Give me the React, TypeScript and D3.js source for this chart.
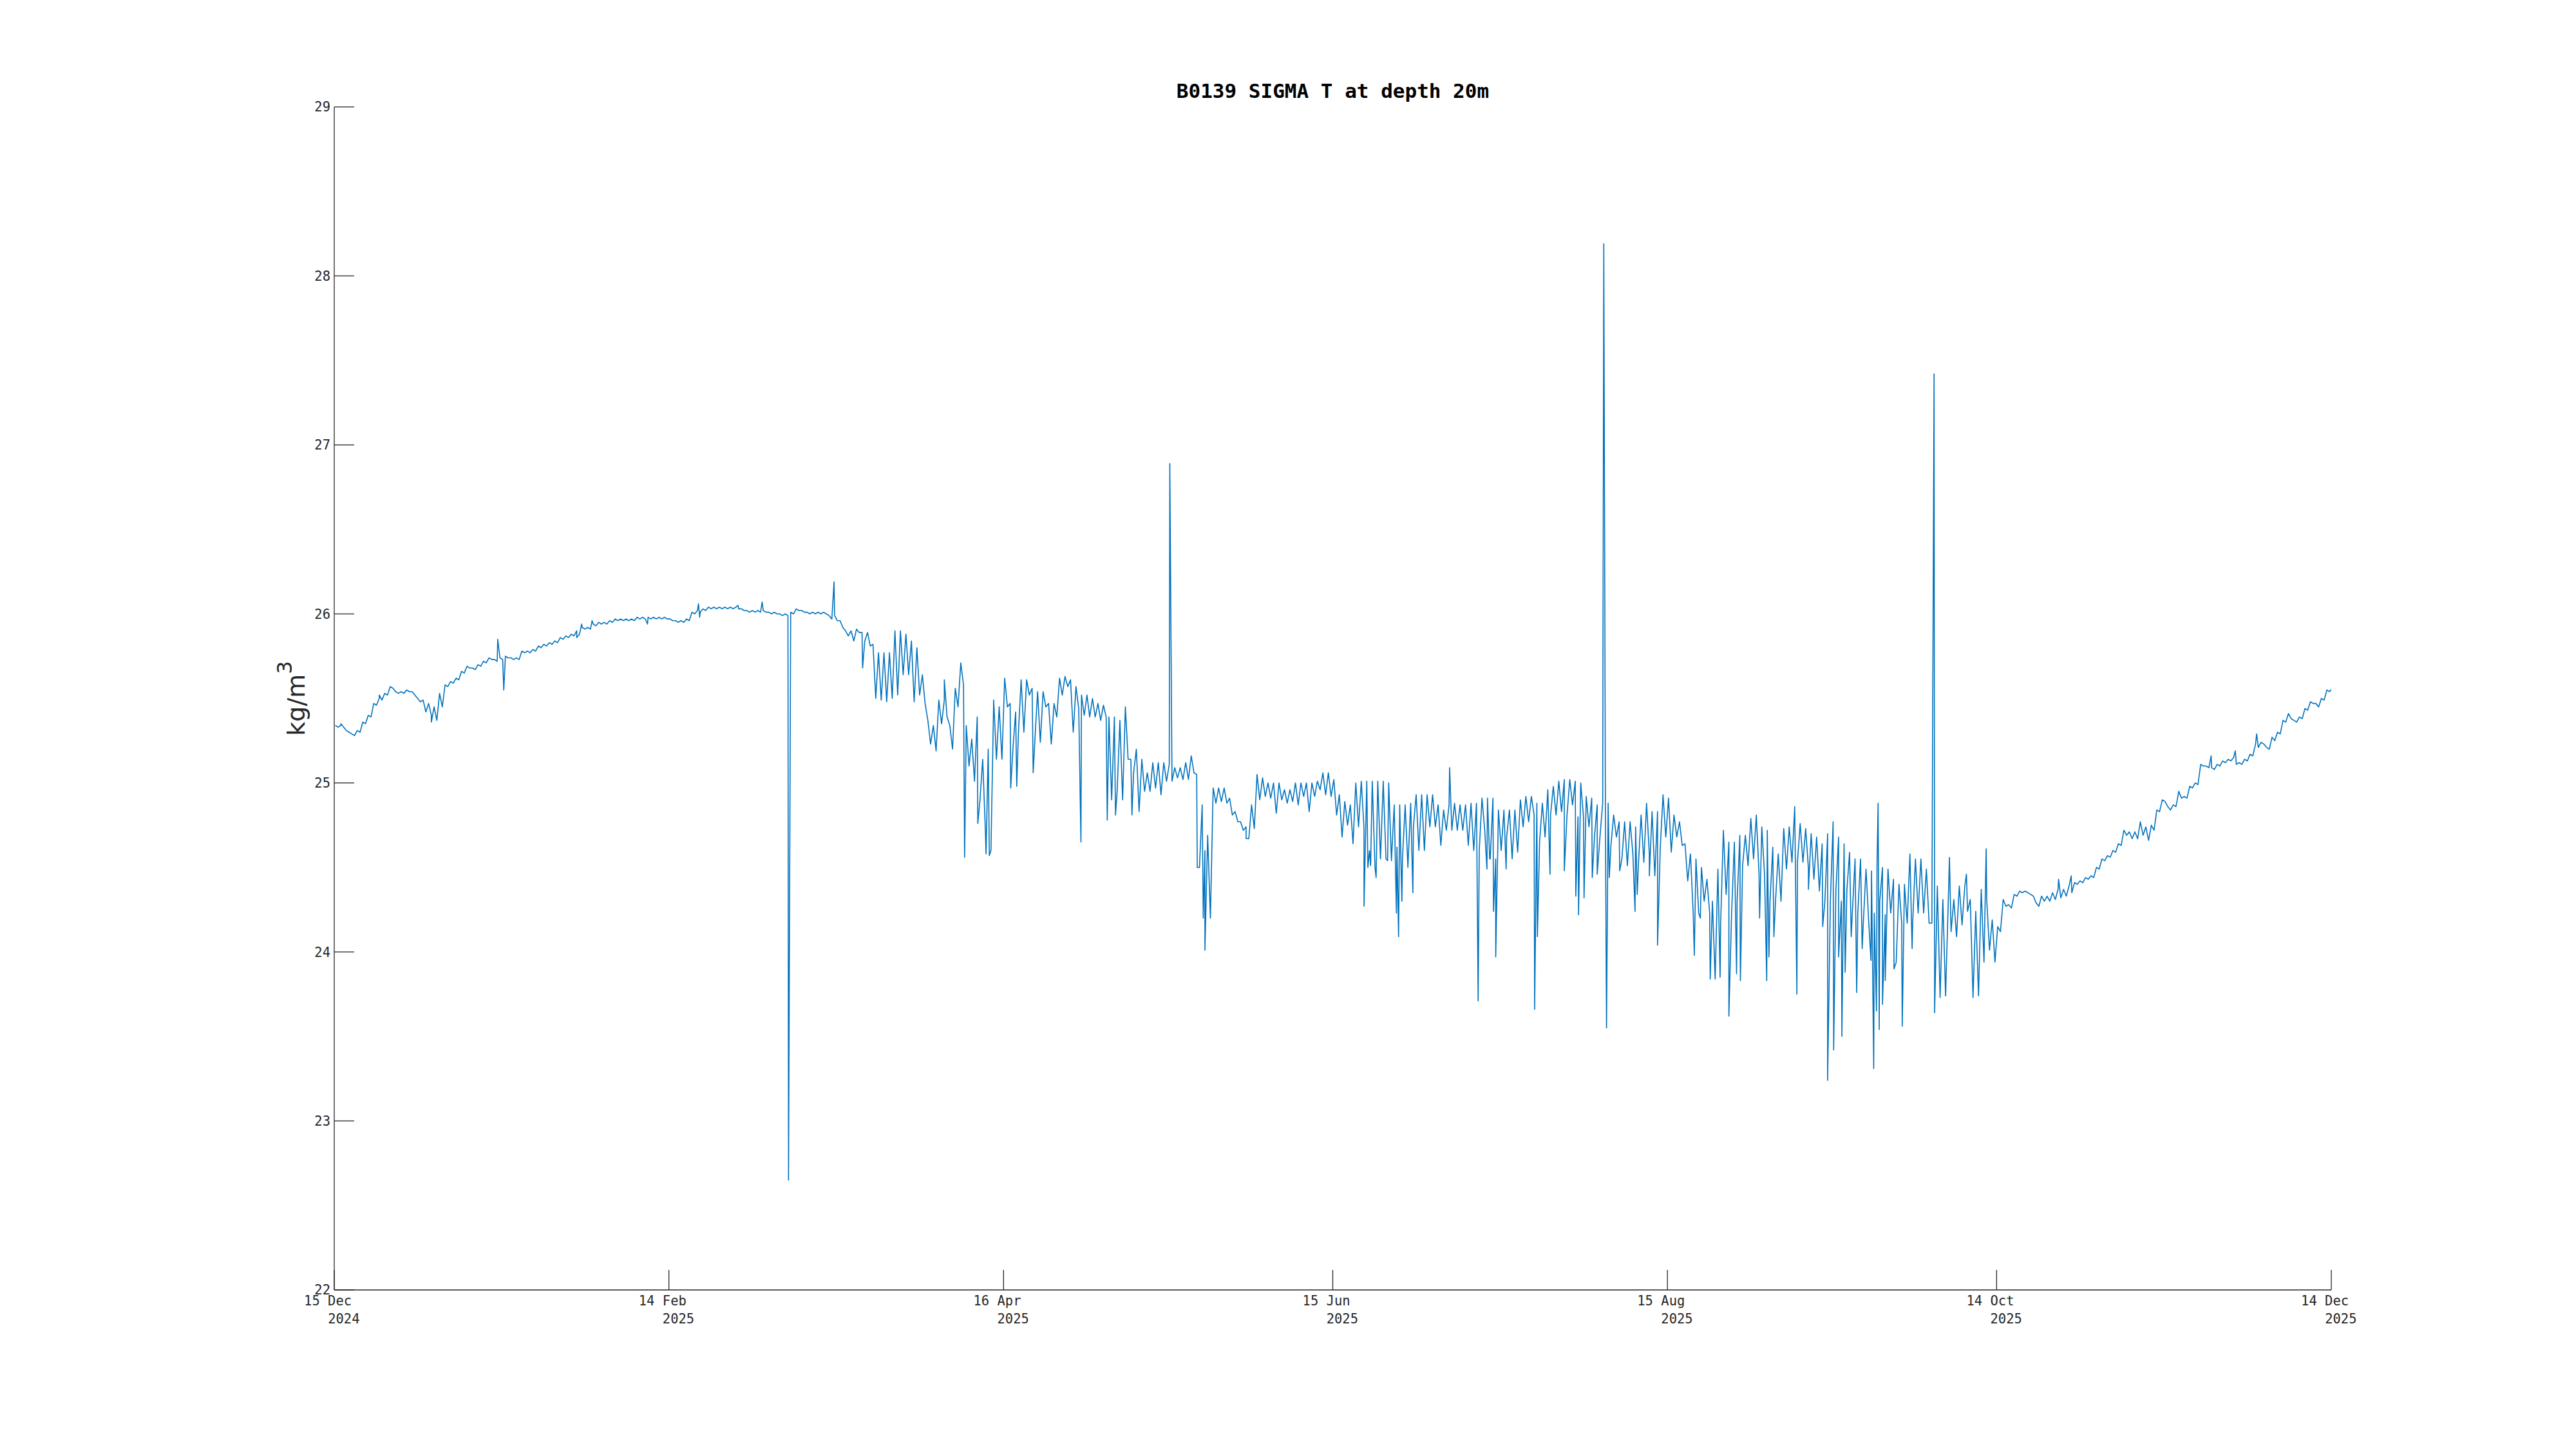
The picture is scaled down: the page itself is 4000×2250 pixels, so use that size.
import React from "react";
import * as d3 from "d3";

// ---------- data ----------
const startDay = "2024-12-15";
const endDay = "2025-12-14";
const tickDays = ["2024-12-15", "2025-02-14", "2025-04-16", "2025-06-15", "2025-08-15", "2025-10-14", "2025-12-14"];
const yTicks = [22, 23, 24, 25, 26, 27, 28, 29];
const titleText = "B0139 SIGMA T at depth 20m";

// daily upper / lower envelope of sigma-t (kg/m3), day 0 = 15 Dec 2024
const dailyHigh = [
  25.34,25.34,25.31,25.29,25.31,25.36,25.40,25.47,25.50,25.53,
  25.57,25.54,25.54,25.55,25.54,25.50,25.49,25.47,25.45,25.53,
  25.58,25.60,25.62,25.66,25.69,25.68,25.70,25.72,25.74,25.73,
  25.74,25.75,25.74,25.74,25.78,25.78,25.79,25.81,25.82,25.83,
  25.84,25.86,25.87,25.88,25.90,25.92,25.92,25.94,25.95,25.95,
  25.96,25.97,25.97,25.97,25.97,25.98,25.98,25.98,25.98,25.98,
  25.98,25.97,25.96,25.96,25.97,26.01,26.02,26.03,26.04,26.04,
  26.04,26.04,26.04,26.04,26.03,26.02,26.02,26.02,26.02,26.01,
  26.01,26.00,26.00,26.01,26.03,26.02,26.01,26.01,26.01,26.01,
  25.99,25.99,25.96,25.90,25.90,25.91,25.89,25.89,25.82,25.77,
  25.77,25.77,25.90,25.90,25.88,25.84,25.80,25.64,25.37,25.34,
  25.49,25.49,25.34,25.56,25.71,25.34,25.26,25.39,25.14,25.20,
  25.49,25.45,25.62,25.47,25.42,25.61,25.61,25.56,25.54,25.54,
  25.47,25.47,25.62,25.63,25.61,25.57,25.52,25.52,25.50,25.47,
  25.46,25.39,25.39,25.37,25.45,25.14,25.20,25.14,25.06,25.12,
  25.12,25.12,25.11,25.09,25.09,25.12,25.16,25.05,24.87,24.69,
  24.97,24.97,24.97,24.91,24.83,24.77,24.74,24.87,25.05,25.03,
  25.00,25.00,25.00,24.96,24.96,25.00,25.00,25.00,25.00,25.01,
  25.06,25.06,25.02,24.93,24.89,24.87,25.00,25.01,25.01,25.01,
  25.01,25.01,25.00,24.87,24.87,24.87,24.88,24.93,24.93,24.93,
  24.93,24.87,24.84,24.87,24.88,24.87,24.87,24.88,24.88,24.91,
  24.91,24.91,24.84,24.84,24.84,24.84,24.90,24.92,24.92,24.88,
  24.88,24.96,24.98,25.01,25.02,25.02,25.01,25.00,24.92,24.91,
  24.87,24.88,24.88,24.81,24.77,24.77,24.77,24.74,24.81,24.88,
  24.83,24.83,24.93,24.91,24.81,24.77,24.64,24.58,24.55,24.50,
  24.43,24.30,24.49,24.72,24.65,24.65,24.69,24.69,24.79,24.81,
  24.74,24.72,24.62,24.58,24.73,24.74,24.86,24.76,24.73,24.70,
  24.68,24.64,24.70,24.77,24.68,24.64,24.59,24.55,24.55,24.49,
  24.48,24.51,24.50,24.49,24.43,24.40,24.40,24.58,24.55,24.55,
  24.49,24.17,24.39,24.31,24.31,24.31,24.39,24.39,24.31,24.24,
  24.37,24.31,24.19,24.15,24.31,24.28,24.34,24.36,24.36,24.34,
  24.29,24.33,24.33,24.35,24.37,24.37,24.39,24.41,24.42,24.44,
  24.45,24.50,24.55,24.57,24.60,24.64,24.72,24.71,24.71,24.77,
  24.74,24.75,24.84,24.90,24.86,24.87,24.95,24.92,24.98,25.00,
  25.11,25.10,25.09,25.11,25.13,25.14,25.15,25.12,25.14,25.17,
  25.23,25.24,25.21,25.27,25.30,25.37,25.41,25.37,25.39,25.44,
  25.48,25.47,25.50,25.55,25.56,
];

const dailyLow = [
  25.33,25.33,25.30,25.28,25.30,25.35,25.39,25.46,25.49,25.52,
  25.56,25.53,25.53,25.54,25.52,25.48,25.42,25.40,25.37,25.45,
  25.57,25.59,25.61,25.65,25.68,25.67,25.69,25.71,25.73,25.72,
  25.73,25.74,25.73,25.73,25.77,25.77,25.78,25.80,25.81,25.82,
  25.83,25.85,25.86,25.87,25.88,25.91,25.91,25.93,25.94,25.94,
  25.95,25.96,25.96,25.96,25.96,25.97,25.97,25.97,25.97,25.97,
  25.97,25.96,25.95,25.95,25.96,26.00,26.01,26.02,26.03,26.03,
  26.03,26.03,26.03,26.03,26.02,26.01,26.01,26.01,26.01,26.00,
  26.00,25.99,25.99,26.00,26.02,26.01,26.00,26.00,26.00,26.00,
  25.97,25.96,25.92,25.87,25.84,25.89,25.84,25.81,25.50,25.49,
  25.48,25.50,25.52,25.64,25.64,25.48,25.52,25.47,25.23,25.19,
  25.35,25.39,25.20,25.45,25.58,25.10,25.01,24.90,24.70,24.60,
  25.14,25.14,25.45,25.20,25.29,25.30,25.52,25.25,25.24,25.45,
  25.23,25.39,25.52,25.57,25.30,25.44,25.40,25.39,25.39,25.37,
  25.39,24.90,24.95,24.90,25.14,25.06,24.83,24.95,24.95,24.97,
  24.93,25.01,25.01,25.03,25.02,25.02,25.06,24.50,24.60,24.20,
  24.88,24.89,24.88,24.81,24.77,24.72,24.67,24.73,24.90,24.92,
  24.91,24.82,24.90,24.88,24.89,24.87,24.92,24.83,24.92,24.96,
  24.93,24.92,24.81,24.68,24.75,24.64,24.74,24.73,24.60,24.50,
  24.55,24.55,24.54,24.62,24.55,24.50,24.74,24.60,24.60,24.74,
  24.74,24.63,24.72,24.72,24.72,24.72,24.63,24.60,24.60,24.72,
  24.55,24.55,24.60,24.68,24.55,24.59,24.74,24.77,24.81,24.65,
  24.68,24.81,24.81,24.83,24.81,24.87,24.80,24.80,24.74,24.68,
  24.68,24.78,24.63,24.68,24.55,24.51,24.58,24.51,24.53,24.58,
  24.45,24.62,24.68,24.59,24.68,24.63,24.42,24.23,24.23,24.30,
  24.23,23.84,24.17,24.34,24.23,24.30,24.51,24.51,24.55,24.46,
  24.46,24.30,24.30,24.30,24.49,24.53,24.53,24.53,24.49,24.43,
  24.36,24.30,24.30,24.36,24.30,24.36,24.23,24.23,24.17,24.17,
  24.23,24.30,24.22,24.23,23.94,24.17,24.17,24.17,24.23,24.23,
  24.17,23.64,23.73,23.74,24.12,24.09,24.16,24.24,23.73,23.74,
  23.94,24.01,23.94,24.12,24.27,24.26,24.33,24.35,24.35,24.33,
  24.27,24.30,24.30,24.31,24.32,24.33,24.35,24.40,24.41,24.43,
  24.44,24.49,24.54,24.56,24.59,24.63,24.69,24.67,24.67,24.69,
  24.66,24.72,24.83,24.89,24.84,24.86,24.91,24.91,24.97,24.99,
  25.10,25.09,25.08,25.10,25.12,25.13,25.11,25.11,25.13,25.16,
  25.21,25.23,25.20,25.25,25.29,25.36,25.38,25.36,25.38,25.43,
  25.47,25.45,25.49,25.54,25.55,
];

// isolated single-sample excursions (day offset from 15 Dec 2024, value)
const spikeDays = [
  1.2, 8.2, 17.7, 29.8, 30.9, 44.2, 45.1, 47.0, 57.1, 66.4, 66.6,
  73.6, 78.0, 82.8, 91.1, 96.3, 111.2, 114.9, 117.3, 118.8, 119.4, 123.3, 124.4, 127.4, 136.1, 140.9, 142.4, 145.4,
  152.3, 157.3, 158.4, 158.7, 166.2, 187.7, 188.4, 188.9, 189.9, 192.0, 193.6, 194.0, 194.6, 196.6, 203.3, 208.5, 210.1, 210.6, 211.3, 211.7, 213.6, 218.8,
  219.3, 221.6, 224.2, 226.3, 226.8, 227.8, 229.3, 230.2, 231.4, 231.9, 232.4, 234.3, 237.1, 237.5, 239.7, 241.2, 247.9, 249.0, 250.8, 252.6, 254.2, 255.6, 256.3, 259.8, 261.1, 261.5, 262.4, 266.6, 268.7, 271.3, 272.2, 273.3, 274.2, 274.8, 275.4, 276.5, 277.5, 278.5, 280.1, 280.6, 281.1, 281.4, 281.6, 282.2, 282.7, 284.3, 285.8, 287.6,
  291.6, 294.4, 297.5, 301.1, 314.3, 316.6, 342.1, 346.5, 350.4,
];
const spikeValues = [
  25.35, 25.52, 25.36, 25.85, 25.55, 25.86, 25.94, 25.96, 25.94, 26.06, 25.98,
  26.05, 26.07, 22.65, 26.19, 25.68, 25.61, 24.56, 24.76, 24.58, 24.57, 24.97, 24.98, 25.06, 24.65, 24.78, 24.81, 24.81,
  26.89, 24.50, 24.20, 24.01, 24.67, 24.27, 24.50, 24.51, 24.44, 24.54, 24.23, 24.09, 24.30, 24.35, 25.09, 23.71, 24.49, 24.55, 24.24, 23.97, 24.49, 23.66,
  24.09, 24.46, 24.48, 24.33, 24.22, 24.32, 24.44, 24.46, 28.19, 23.55, 24.44, 24.48, 24.24, 24.34, 24.45, 24.04, 23.98, 24.20, 23.84, 23.85, 23.62, 23.87, 23.83, 24.20, 23.83, 23.97, 24.09, 23.75, 24.37, 24.15, 23.24, 23.42, 23.97, 23.50, 23.88, 24.09, 23.76, 24.02, 23.95, 23.31, 23.65, 24.88, 23.54, 23.69, 23.83, 23.90, 23.56, 24.02,
  27.42, 24.56, 24.46, 24.61, 24.43, 24.45, 25.16, 25.19, 25.29,
];

// ---------- layout ----------
const W = 4000;
const H = 2250;
const PL = 519, PR = 3620, PT = 166, PB = 2003;
const AX = "#262626";
const LINE = "#0072BD";
const MONO = "'DejaVu Sans Mono', monospace";
const SANS = "'DejaVu Sans', sans-serif";
const DAY = 86400000;

export default function App() {
  const t0 = d3.utcParse("%Y-%m-%d")(startDay)!;
  const t1 = d3.utcParse("%Y-%m-%d")(endDay)!;
  const x = d3.scaleUtc().domain([t0, t1]).range([PL, PR]);
  const y = d3.scaleLinear().domain([22, 29]).range([PB, PT]);

  const pts: { t: number; v: number }[] = [];
  dailyHigh.forEach((v, i) => pts.push({ t: i + 0.2, v }));
  dailyLow.forEach((v, i) => pts.push({ t: i + 0.7, v }));
  spikeDays.forEach((d, i) => pts.push({ t: d, v: spikeValues[i] }));
  pts.sort((a, b) => a.t - b.t);

  const line = d3
    .line<{ t: number; v: number }>()
    .x((p) => x(new Date(t0.getTime() + p.t * DAY)))
    .y((p) => y(p.v));

  const ticks = tickDays.map((s) => d3.utcParse("%Y-%m-%d")(s)!);
  const fmtDay = d3.utcFormat("%d %b");
  const fmtYear = d3.utcFormat("%Y");
  const fs = 20.5;
  const cw = fs * 0.602;

  return (
    <svg
      width={W}
      height={H}
      viewBox={`0 0 ${W} ${H}`}
      style={{ position: "absolute", left: 0, top: 0, background: "#fff" }}
    >
      <rect x={0} y={0} width={W} height={H} fill="#fff" />
      <defs>
        <clipPath id="plotclip">
          <rect x={PL} y={PT - 5} width={PR - PL} height={PB - PT + 5} />
        </clipPath>
      </defs>

      <path
        d={line(pts) || ""}
        fill="none"
        stroke={LINE}
        strokeWidth={1.6}
        strokeLinejoin="round"
        clipPath="url(#plotclip)"
      />

      {/* y axis */}
      <line x1={PL} x2={PL} y1={PT} y2={PB} stroke={AX} strokeWidth={1.3} />
      {yTicks.map((v) => (
        <g key={v}>
          <line x1={PL} x2={PL + 31} y1={y(v)} y2={y(v)} stroke={AX} strokeWidth={1.3} />
          <text
            x={PL - 6}
            y={y(v)}
            dy="0.36em"
            textAnchor="end"
            fontFamily={MONO}
            fontSize={fs}
            fill={AX}
          >
            {v}
          </text>
        </g>
      ))}

      {/* x axis */}
      <line x1={PL} x2={PR} y1={PB} y2={PB} stroke={AX} strokeWidth={1.3} />
      {ticks.map((d, i) => (
        <g key={i}>
          <line x1={x(d)} x2={x(d)} y1={PB} y2={PB - 31} stroke={AX} strokeWidth={1.3} />
          <text x={x(d) - 3.8 * cw} y={PB + 24} fontFamily={MONO} fontSize={fs} fill={AX}>
            {fmtDay(d)}
          </text>
          <text x={x(d) - 0.8 * cw} y={PB + 52} fontFamily={MONO} fontSize={fs} fill={AX}>
            {fmtYear(d)}
          </text>
        </g>
      ))}

      {/* title */}
      <text
        x={(PL + PR) / 2}
        y={152}
        textAnchor="middle"
        fontFamily={MONO}
        fontWeight="bold"
        fontSize={31}
        fill="#000"
      >
        {titleText}
      </text>

      {/* y label */}
      <text
        transform={`translate(473, ${(PT + PB) / 2}) rotate(-90)`}
        textAnchor="middle"
        fontFamily={SANS}
        fontSize={38}
        fill={AX}
      >
        kg/m
        <tspan fontSize={32} dy={-20}>3</tspan>
      </text>
    </svg>
  );
}
